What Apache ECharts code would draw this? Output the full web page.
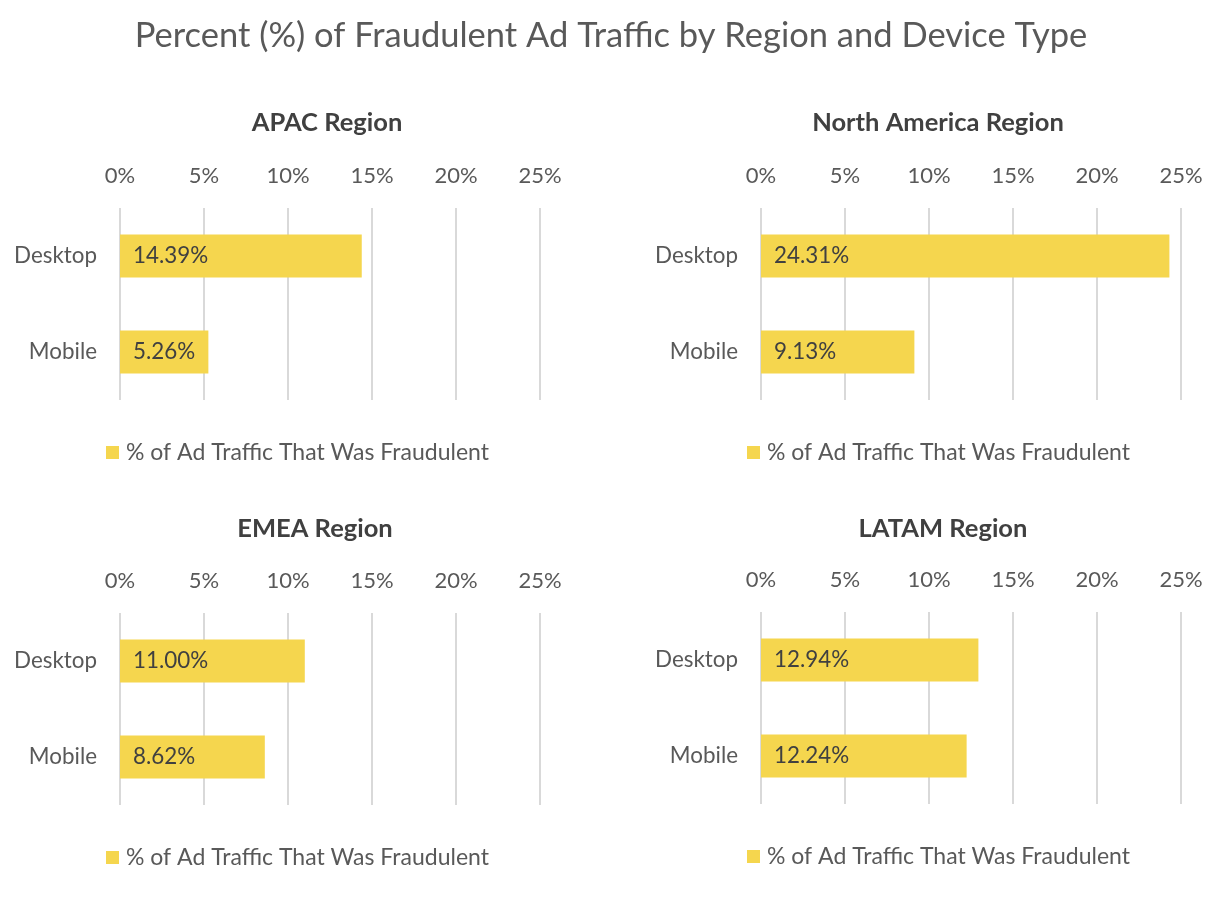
<!DOCTYPE html>
<html><head><meta charset="utf-8">
<script src="https://cdn.jsdelivr.net/npm/echarts@6/dist/echarts.min.js"></script>
<style>html,body{margin:0;padding:0;background:#fff}#c{width:1225px;height:907px}</style>
</head><body><div id="c"></div>
<script>
const categories = ['Desktop', 'Mobile'];
const regions = ['APAC Region', 'North America Region', 'EMEA Region', 'LATAM Region'];
const apacValues = [14.39, 5.26];
const northAmericaValues = [24.31, 9.13];
const emeaValues = [11.00, 8.62];
const latamValues = [12.94, 12.24];
const xTicks = [0, 5, 10, 15, 20, 25];
const seriesName = '% of Ad Traffic That Was Fraudulent';
const mainTitle = 'Percent (%) of Fraudulent Ad Traffic by Region and Device Type';

const allValues = [apacValues, northAmericaValues, emeaValues, latamValues];
const FONT = 'Lato';
const BAR = '#F5D64E';
const grids = [
  {left:120, top:208, width:420, height:192},
  {left:761, top:208, width:420, height:192},
  {left:120, top:613, width:420, height:192},
  {left:761, top:612, width:420, height:192}
];
const titleCenters = [[322,120],[933,120],[310,526],[938,526]];
const legendPos = [[101,449],[742,449],[101,854],[742,853]];

const option = {
  animation:false,
  textStyle:{fontFamily:FONT},
  title:[{text:mainTitle,left:606,textAlign:'center',top:13,textStyle:{fontFamily:FONT,fontSize:34.5,fontWeight:'normal',color:'#595959'}}]
    .concat(regions.map((r,i)=>({text:r,left:titleCenters[i][0],top:titleCenters[i][1]-15,textAlign:'center',
      textStyle:{fontFamily:FONT,fontSize:25.5,fontWeight:'bold',color:'#404040'}}))),
  grid: grids,
  legend: legendPos.map((p,i)=>({left:p[0],top:p[1]-13,itemWidth:13,itemHeight:13,itemGap:10,icon:'rect',
    data:[seriesName],textStyle:{fontFamily:FONT,fontSize:23,color:'#595959',padding:[0,0,0,2]}})),
  xAxis: grids.map((g,i)=>({type:'value',gridIndex:i,position:'top',min:xTicks[0],max:xTicks[xTicks.length-1],interval:5,
    axisLine:{show:false},axisTick:{show:false},
    axisLabel:{formatter:'{value}%',fontFamily:FONT,fontSize:22,color:'#595959',margin:21},
    splitLine:{lineStyle:{color:'#D9D9D9',width:2}}})),
  yAxis: grids.map((g,i)=>({type:'category',gridIndex:i,data:categories,inverse:true,
    axisLine:{show:false},axisTick:{show:false},
    axisLabel:{fontFamily:FONT,fontSize:22.4,color:'#595959',margin:23}})),
  series: allValues.map((v,i)=>({type:'bar',name:seriesName,xAxisIndex:i,yAxisIndex:i,data:v,
    barWidth:43,itemStyle:{color:BAR},
    label:{show:true,position:'insideLeft',distance:13,formatter:p=>p.value.toFixed(2)+'%',
      fontFamily:FONT,fontSize:22.4,color:'#404040'}}))
};
const chart = echarts.init(document.getElementById('c'));
chart.setOption(option);
</script></body></html>
